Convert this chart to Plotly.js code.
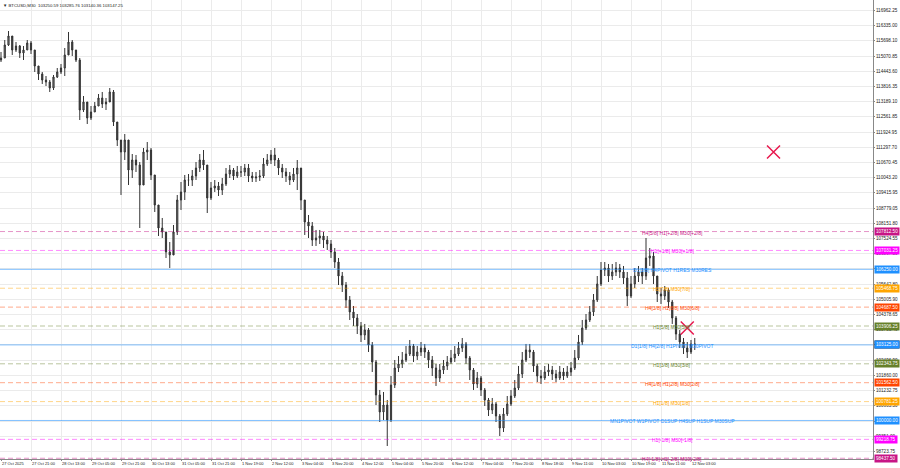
<!DOCTYPE html>
<html><head><meta charset="utf-8">
<script src="https://cdn.plot.ly/plotly-3.0.1.min.js"></script>
<style>html,body{margin:0;padding:0;background:#fff;overflow:hidden;} #chart{width:900px;height:468px;}</style>
</head><body><div id="chart"></div>
<script>
// ---- data ----
const symbolTitle = "BTCUSD,M30";
const lastBar = [103250.59, 103285.76, 103140.36, 103147.25];
const firstOpen = 114906;
const closeP = [
114989,115526,115898,115320,115485,115195,115320,115609,115320,114658,
114327,114079,113996,113748,114203,114410,114575,115113,115650,115320,
114906,112838,113169,112508,112756,113004,113335,113087,113169,113583,
112342,111598,111102,111598,110357,110771,110564,109737,111102,111184,
110151,108910,107959,107794,106967,106843,107794,109117,109448,109944,
109944,110109,110440,110771,110564,109200,109613,109696,109530,109779,
110192,110357,110109,110275,110275,110440,110109,110027,110068,110109,
110606,110771,110978,110771,110440,110275,110109,109944,110192,110440,
109117,108207,108042,107463,107546,107628,107463,107298,106967,106553,
105974,105602,104982,104486,104238,103907,103535,103742,103121,102418,
101054,100351,100640,100020,101467,102170,102336,102501,102749,103080,
102666,102832,102997,102832,102501,102170,101757,102088,102253,102418,
102584,102749,102997,103163,102584,102088,101509,101757,101261,100847,
100434,100682,100185,99689,100268,100682,101012,101343,101922,102501,
102915,102832,102253,101839,101757,102005,102088,101922,101757,102005,
101839,102005,102170,102584,103245,103824,104155,104486,104982,105644,
106222,106305,105974,106140,106305,106140,105892,105147,105644,105974,
106140,105974,106719,106801,105974,105230,105147,105396,104899,104238,
103576,103245,102997,102832,103163,103147.25];
const highP = [
115237,115733,116105,115816,115650,115526,115485,115733,115692,115320,
114575,114410,114244,114079,114286,114575,114741,115402,116064,115733,
115237,114989,113417,113087,113004,113169,113500,113583,113335,113748,
113665,112260,111515,111846,111598,111019,110978,110688,111267,111515,
111267,110151,108910,108373,107794,107380,108083,109324,109861,110151,
110192,110357,110688,111019,111184,110357,109861,109944,109861,110027,
110440,110564,110440,110523,110523,110606,110606,110275,110275,110357,
110854,111019,111184,111267,110854,110606,110440,110275,110440,110771,
110357,109117,108497,108207,107877,107877,107794,107628,107463,107132,
106719,106140,105726,105147,104734,104403,104072,103990,103824,103245,
102501,101261,101178,100847,101839,102501,102666,102832,103080,103328,
103163,103080,103245,103163,102915,102666,102336,102336,102501,102666,
102915,103080,103245,103411,103245,102666,102170,102005,101839,101343,
100930,100930,100764,100268,100516,101012,101261,101674,102253,102832,
103163,103163,102915,102336,102088,102253,102336,102253,102088,102253,
102170,102253,102418,102915,103535,104155,104403,104734,105230,105974,
106553,106553,106471,106471,106553,106471,106388,106140,105974,106305,
106388,106305,107546,107132,106967,105809,105478,105561,105478,104982,
104320,103742,103411,103245,103328,103411];
const lowP = [
114823,114989,115485,115113,115237,114989,114906,115320,115154,114410,
114079,113914,113831,113583,113665,114162,114327,114244,115320,115071,
114823,112425,112756,112260,112425,112756,113004,112921,112838,113252,
112177,111350,109324,110771,109737,110027,110275,107959,109944,110771,
109944,108621,107628,107546,106719,106305,107050,107670,108704,109117,
109696,109696,109944,110275,110357,108579,109117,109448,109282,109324,
109696,110027,109944,110027,110068,110109,109861,109861,109861,109903,
110027,110523,110606,110523,110151,110027,109861,109737,109861,109530,
108704,107670,107546,107215,107215,107298,107132,107050,106719,106305,
105602,105313,104651,104155,103907,103576,103245,103328,102832,102005,
100640,99937,100020,98945,99937,101343,102005,102170,102418,102666,
102418,102501,102666,102584,102170,101839,101426,101591,101922,102088,
102336,102418,102666,102832,102336,101674,101261,101343,101012,100599,
100185,100268,99937,99358,99524,100185,100599,100930,101261,101757,
102418,102584,102005,101591,101509,101674,101839,101674,101591,101674,
101674,101757,101839,102088,102501,103121,103742,104072,104320,104899,
105561,105974,105726,105809,105974,105892,105644,104734,105065,105478,
105726,105644,105809,106388,105644,104899,104817,104982,104651,103990,
103328,102997,102749,102584,102749,102915];

const tickBars = [0,8,16,24,32,40,48,56,64,72,80,88,96,104,112,120,128,136,144,152,160,168,176,184];
const tickDates = ["27 Oct 2025","27 Oct 21:00","28 Oct 13:00","29 Oct 05:00","29 Oct 21:00","30 Oct 13:00",
"31 Oct 05:00","31 Oct 21:00","1 Nov 19:00","2 Nov 12:00","3 Nov 04:00","3 Nov 20:00","4 Nov 12:00",
"5 Nov 04:00","5 Nov 20:00","6 Nov 12:00","7 Nov 04:00","7 Nov 20:00","8 Nov 18:00","9 Nov 11:00",
"10 Nov 03:00","10 Nov 19:00","11 Nov 11:00","12 Nov 03:00"];
const priceTicks = [116962.25,116335.00,115698.10,115070.85,114443.60,113816.35,113189.10,112561.85,
111924.95,111297.70,110670.45,110043.20,109415.95,108779.05,108151.80,107524.55,106897.30,106270.05,
105642.80,105005.90,104378.65,103751.40,103124.15,102496.90,101860.00,101232.75,100605.50,99978.25,
99351.00,98723.75];

const levelPrices = [107812.50,107031.25,106250.00,105468.75,104687.50,103906.25,103125.00,
102343.75,101562.50,100781.25,100000.00,99218.75,98437.50];
const levelNames = ["H4[5/8] H1[+2/8] M30[+2/8]","H1[+1/8] M30[+1/8]","D1[3/8] H4PIVOT H1RES M30RES",
"H1[7/8] M30[7/8]","H4[3/8] H1[6/8] M30[6/8]","H1[5/8] M30[5/8]","D1[1/8] H4[2/8] H1PIVOT M30PIVOT",
"H1[3/8] M30[3/8]","H4[1/8] H1[2/8] M30[2/8]","H1[1/8] M30[1/8]","MN1PIVOT W1PIVOT D1SUP H4SUP H1SUP M30SUP",
"H1[-1/8] M30[-1/8]","H4[-1/8] H1[-2/8] M30[-2/8]"];
const levelColors = ["#c71585","#ff00ff","#1e90ff","#ffa500","#ff4500","#66802a","#1e90ff",
"#66802a","#ff4500","#ffa500","#1e90ff","#ff00ff","#c71585"];
const levelSolid = [false,false,true,false,false,false,true,false,false,false,true,false,false];
const labelBar = 179;

const signalBars = [206, 183];
const signalPrices = [111102, 103824];
const currentPrice = 103147.25;

// ---- build ----
const xs = closeP.map((_, i) => i);
const openP = [firstOpen].concat(closeP.slice(0, -1));

const candles = {
  type: 'candlestick', x: xs, open: openP, high: highP, low: lowP, close: closeP,
  increasing: {line: {color: '#333333', width: 1}, fillcolor: '#8c8c8c'},
  decreasing: {line: {color: '#333333', width: 1}, fillcolor: '#333333'},
  whiskerwidth: 0, hoverinfo: 'skip', showlegend: false
};
const signals = {
  type: 'scatter', mode: 'markers', x: signalBars, y: signalPrices,
  marker: {symbol: 'x-thin', size: 13, color: '#e8194f', line: {color: '#e8194f', width: 1.5}},
  hoverinfo: 'skip', showlegend: false
};

const shapes = levelPrices.map((p, i) => ({
  type: 'line', xref: 'paper', x0: 0, x1: 1, yref: 'y', y0: p, y1: p, layer: 'above',
  opacity: levelSolid[i] ? 0.55 : 0.45,
  line: {color: levelColors[i], width: 1, dash: levelSolid[i] ? 'solid' : '5px,3px'}
}));

const annotations = [];
annotations.push({
  xref: 'paper', yref: 'paper', x: 0, y: 1, xanchor: 'left', yanchor: 'top', xshift: 1, yshift: -1,
  text: '\u25BC ' + symbolTitle + '  ' + lastBar.map(v => v.toFixed(2)).join(' '),
  showarrow: false, font: {size: 4.3, color: '#222'}
});
levelPrices.forEach((p, i) => {
  annotations.push({
    xref: 'x', yref: 'y', x: labelBar, y: p, xanchor: 'center', yanchor: 'middle', yshift: -1,
    text: levelNames[i], showarrow: false, font: {size: 5, color: levelColors[i]}
  });
});
annotations.push({
  xref: 'paper', yref: 'y', x: 1, y: currentPrice, xanchor: 'left', yanchor: 'middle', xshift: 1,
  text: currentPrice.toFixed(2), showarrow: false, font: {size: 4.6, color: '#fff'}, bgcolor: '#111', borderpad: 1
});
levelPrices.forEach((p, i) => {
  annotations.push({
    xref: 'paper', yref: 'y', x: 1, y: p, xanchor: 'left', yanchor: 'middle', xshift: 1,
    text: p.toFixed(2), showarrow: false, font: {size: 4.6, color: '#fff'}, bgcolor: levelColors[i], borderpad: 1
  });
});

const layout = {
  width: 900, height: 468,
  margin: {l: 0, r: 27, t: 0, b: 9},
  paper_bgcolor: '#ffffff', plot_bgcolor: '#ffffff',
  showlegend: false, boxgap: 0.55,
  font: {family: 'Liberation Sans, Arial, sans-serif', size: 5, color: '#222'},
  xaxis: {
    range: [-0.267, 232.53], tickmode: 'array', tickvals: tickBars, ticktext: tickDates,
    ticklabelposition: 'outside right', tickangle: 0, ticks: 'outside', ticklen: 1, tickcolor: '#888',
    showgrid: true, gridcolor: '#ebebeb', gridwidth: 1, zeroline: false,
    showline: true, linecolor: '#888', linewidth: 1, automargin: false,
    rangeslider: {visible: false}, tickfont: {size: 4, color: '#222'}, fixedrange: true
  },
  yaxis: {
    side: 'right', range: [98407, 117387], tickmode: 'array', tickvals: priceTicks,
    ticktext: priceTicks.map(v => v.toFixed(2)), ticks: 'outside', ticklen: 1, tickcolor: '#888',
    showgrid: true, gridcolor: '#ebebeb', gridwidth: 1, zeroline: false, automargin: false,
    showline: true, linecolor: '#888', linewidth: 1, tickfont: {size: 4.6, color: '#222'}, fixedrange: true
  },
  shapes: shapes,
  annotations: annotations
};

Plotly.newPlot('chart', [candles, signals], layout, {staticPlot: true, displayModeBar: false});
</script>
</body></html>
